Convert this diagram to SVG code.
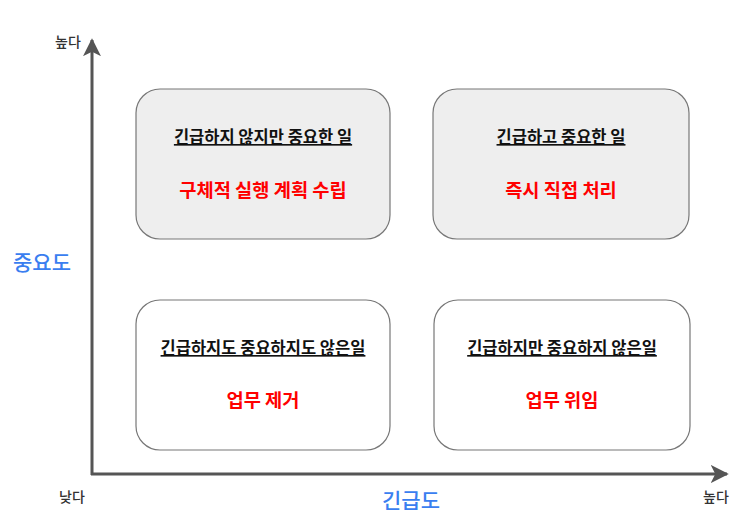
<svg xmlns="http://www.w3.org/2000/svg" width="743" height="529" viewBox="0 0 743 529">
<style>
.box{stroke:#777;stroke-width:1.2}
.gray{fill:#eeeeee}
.white{fill:#ffffff}
.title{font-family:"Noto Sans CJK KR","Noto Sans",sans-serif;font-size:16.5px;font-weight:bold;fill:#111;text-anchor:middle;text-decoration:underline}
.act{font-family:"Noto Sans CJK KR","Noto Sans",sans-serif;font-size:18.7px;font-weight:bold;fill:#ff0000;text-anchor:middle}
.axislbl{font-family:"Noto Sans CJK KR","Noto Sans",sans-serif;font-size:21px;font-weight:500;fill:#3a7ef0;text-anchor:middle}
.small{font-family:"Noto Sans CJK KR","Noto Sans",sans-serif;font-size:14px;font-weight:500;fill:#333;text-anchor:middle}
.axis{stroke:#555;stroke-width:3;fill:none}
</style>
<defs>
<marker id="arr" viewBox="0 0 10 10" refX="9" refY="5" markerWidth="6" markerHeight="6" markerUnits="strokeWidth" orient="auto">
<path d="M0,0 L10,5 L0,10 L2.5,5 Z" fill="#555"/>
</marker>
</defs>
<rect width="743" height="529" fill="#ffffff"/>
<g id="connectors">
<path class="axis" d="M92,475 L92,40" marker-end="url(#arr)"/>
<path class="axis" d="M91,474 L727,474" marker-end="url(#arr)"/>
</g>
<g id="q2">
<rect class="box gray" x="136" y="89" width="254" height="150" rx="24"/>
<text class="title" x="263" y="143">긴급하지 않지만 중요한 일</text>
<text class="act" x="263" y="197">구체적 실행 계획 수립</text>
</g>
<g id="q1">
<rect class="box gray" x="433" y="89" width="256" height="150" rx="24"/>
<text class="title" x="561" y="143">긴급하고 중요한 일</text>
<text class="act" x="561" y="197">즉시 직접 처리</text>
</g>
<g id="q3">
<rect class="box white" x="136" y="300" width="254" height="150" rx="24"/>
<text class="title" x="263" y="354">긴급하지도 중요하지도 않은일</text>
<text class="act" x="263" y="407">업무 제거</text>
</g>
<g id="q4">
<rect class="box white" x="434" y="300" width="256" height="150" rx="24"/>
<text class="title" x="562" y="354">긴급하지만 중요하지 않은일</text>
<text class="act" x="562" y="407">업무 위임</text>
</g>
<g id="labels">
<text class="small" x="68" y="47">높다</text>
<text class="small" x="72" y="502">낮다</text>
<text class="small" x="716" y="502">높다</text>
<text class="axislbl" x="42" y="270">중요도</text>
<text class="axislbl" x="411" y="508">긴급도</text>
</g>
</svg>
